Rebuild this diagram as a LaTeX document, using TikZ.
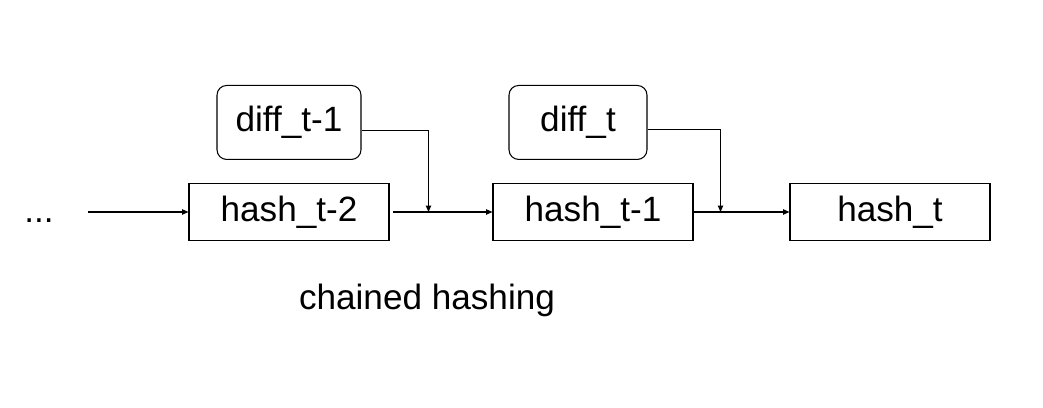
\documentclass[tikz,border=0pt]{standalone}
\usepackage{fontspec}
\setmainfont{Liberation Sans}
\usepackage{tikz}
\usetikzlibrary{arrows.meta,positioning,calc}
\tikzset{
  hashbox/.style={rectangle,draw=black,line width=0.6pt,
    minimum width=4cm,minimum height=1.14cm,align=center,
    font=\fontsize{20}{24}\selectfont,inner sep=2pt},
  diffbox/.style={rectangle,rounded corners=5.5pt,draw=black,line width=0.6pt,
    minimum width=2.88cm,minimum height=1.48cm,align=center,
    font=\fontsize{20}{24}\selectfont,inner sep=2pt},
  plaintext/.style={font=\fontsize{20}{24}\selectfont,inner sep=0pt},
  arrow/.style={-{Triangle[length=3.6pt,width=3pt]},line width=0.6pt,draw=black},
}

\begin{document}
\begin{tikzpicture}[x=0.02cm,y=-0.02cm]
  \useasboundingbox (0,0) rectangle (1043,408);
  \node[hashbox] (hasht2) at (289,212) {hash\_t-2};
  \node[hashbox, right=2.06cm of hasht2] (hasht1) {hash\_t-1};
  \node[hashbox, right=1.92cm of hasht1] (hasht)  {hash\_t};
  \node[diffbox, above=0.46cm of hasht2] (difftm1) {diff\_t-1};
  \node[diffbox, minimum width=2.76cm, above=0.46cm of hasht1, xshift=-0.3cm] (difft) {diff\_t};
  \node[plaintext, minimum width=1.96cm, text height=11.4pt, text depth=0pt] (dots) at (39,212) {...};
  \node[plaintext] (caption) at (427,300) {chained hashing};
  \coordinate[right=0.78cm of hasht2.east] (j1);
  \coordinate[right=0.54cm of hasht1.east] (j2);
  \draw[arrow] (dots) -- (hasht2);
  \draw[arrow, shorten <=2pt] (hasht2) -- (hasht1);
  \draw[arrow] (hasht1) -- (hasht);
  \draw[arrow] (difftm1.-6) -| (j1);
  \draw[arrow] (difft.-6) -| (j2);
\end{tikzpicture}
\end{document}
